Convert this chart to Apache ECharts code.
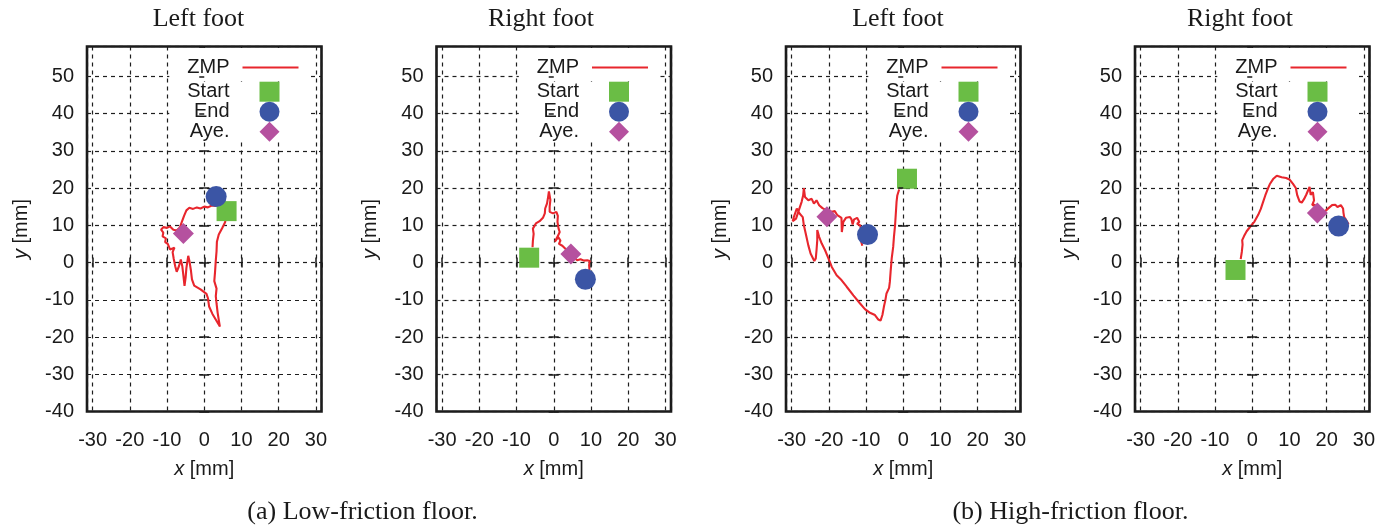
<!DOCTYPE html>
<html><head><meta charset="utf-8">
<script src="https://cdn.jsdelivr.net/npm/echarts@6/dist/echarts.min.js"></script>
<style>html,body{margin:0;padding:0;background:#fff}#c{width:1394px;height:529px}</style>
</head><body><div id="c"></div>
<script>
const panelTitles = ['Left foot', 'Right foot', 'Left foot', 'Right foot'];
const captions = ['(a) Low-friction floor.', '(b) High-friction floor.'];
const legendNames = ['ZMP', 'Start', 'End', 'Aye.'];
const xRange = [-31.5, 31.5];
const yRange = [-40, 58];

const zmpLowLeft = [[5.9,12.8],[5.6,10.8],[4.8,9.2],[3.9,7.5],[3.4,5.6],[3.3,3.0],[3.1,0.5],[2.9,-2.5],[2.7,-5.0],[3.3,-7.0],[3.1,-9.0],[3.3,-11.0],[3.6,-13.5],[4.0,-16.0],[4.2,-17.2],[3.2,-15.5],[2.2,-13.8],[1.3,-11.8],[1.0,-9.6],[0.6,-8.4],[-1.0,-7.2],[-2.7,-6.2],[-3.3,-4.5],[-3.6,-2.0],[-4.0,0.5],[-4.3,1.8],[-4.8,-1.5],[-5.0,-4.0],[-5.3,-6.3],[-5.6,-3.5],[-5.9,-1.0],[-6.3,0.8],[-6.8,-1.0],[-7.4,-2.5],[-7.8,-1.0],[-8.2,1.0],[-8.5,2.8],[-8.0,4.0],[-9.2,3.5],[-9.8,5.0],[-10.5,5.5],[-10.3,6.5],[-11.2,7.0],[-11.0,8.0],[-11.6,8.8],[-11.0,9.5],[-10.0,9.3],[-9.2,9.7],[-8.3,8.8],[-7.4,8.6],[-6.5,9.5],[-6.0,11.0],[-5.4,12.6],[-4.8,14.0],[-4.0,14.7],[-3.0,14.4],[-2.0,14.8],[-1.0,14.5],[0.0,15.0],[1.0,14.8],[2.0,15.3],[3.0,15.2],[3.5,16.0]];
const zmpLowRight = [[-5.7,4.1],[-5.6,5.9],[-5.4,7.7],[-5.6,9.1],[-4.8,10.5],[-3.8,11.1],[-2.9,12.0],[-2.4,13.2],[-2.3,14.5],[-1.8,15.9],[-1.5,17.7],[-1.3,19.1],[-0.8,18.6],[-0.9,16.8],[-1.1,15.0],[-1.1,13.6],[-0.2,13.2],[0.7,13.6],[1.1,12.5],[1.0,10.9],[1.3,9.1],[1.6,8.2],[1.2,7.3],[0.3,5.6],[1.2,6.8],[1.8,5.9],[1.4,5.0],[2.3,4.5],[3.2,3.6],[4.3,2.5],[5.4,1.4],[6.3,0.6],[7.2,0.9],[8.1,0.5],[9.0,0.6],[9.7,0.4],[9.5,-0.7],[9.6,-2.0]];
const zmpHighLeft = [[-1.1,19.6],[-1.6,18.0],[-1.8,16.3],[-2.0,13.1],[-2.2,10.0],[-2.5,6.9],[-2.7,4.2],[-3.1,1.1],[-3.4,-2.5],[-3.6,-5.2],[-3.8,-6.8],[-4.5,-8.3],[-4.8,-10.1],[-5.2,-11.9],[-5.6,-14.1],[-6.1,-15.6],[-6.7,-15.3],[-7.6,-14.1],[-9.1,-13.4],[-10.3,-12.5],[-11.6,-11.0],[-13.4,-8.8],[-15.2,-6.5],[-16.6,-4.7],[-17.9,-3.4],[-19.2,-1.2],[-20.1,1.1],[-21.0,3.3],[-21.9,5.1],[-22.6,6.9],[-23.1,8.7],[-23.1,6.0],[-23.3,3.3],[-23.5,1.1],[-23.9,0.4],[-24.4,0.6],[-24.9,2.4],[-25.5,4.6],[-26.1,7.3],[-26.7,10.0],[-27.0,12.2],[-27.8,13.1],[-28.6,14.5],[-29.4,12.2],[-29.7,11.1],[-28.8,11.8],[-28.2,13.6],[-27.3,16.3],[-26.9,18.0],[-26.7,20.0],[-26.4,17.6],[-25.5,16.7],[-24.6,17.1],[-24.0,15.8],[-23.3,16.7],[-22.6,15.4],[-21.7,14.6],[-20.6,14.0],[-19.2,13.6],[-18.4,13.8],[-17.7,12.7],[-17.2,13.2],[-16.6,12.0],[-16.5,8.2],[-16.1,10.9],[-15.4,12.0],[-14.3,12.2],[-13.9,11.6],[-13.6,10.2],[-13.2,11.6],[-12.4,12.0],[-11.8,10.9],[-12.4,10.4],[-11.6,10.0],[-11.2,8.7],[-11.5,6.4],[-11.0,4.5]];
const zmpHighRight = [[-3.1,0.9],[-2.8,2.9],[-2.6,4.8],[-2.7,6.0],[-2.2,7.1],[-1.5,8.4],[-0.4,9.8],[0.6,11.0],[1.6,12.8],[2.3,14.4],[2.9,16.2],[3.5,18.0],[4.1,19.6],[4.7,21.0],[5.6,22.4],[6.6,23.3],[7.9,22.9],[9.1,22.7],[10.0,22.3],[10.9,21.2],[11.7,20.0],[12.1,18.0],[12.7,16.4],[13.3,16.1],[13.9,17.0],[14.5,18.2],[15.1,19.6],[15.4,20.3],[15.7,18.2],[16.3,18.9],[16.6,16.7],[16.1,15.4],[16.9,15.5],[16.4,13.6],[18.4,13.6],[19.6,13.8],[20.5,14.6],[21.4,15.4],[22.3,15.5],[22.9,14.9],[23.8,15.4],[24.4,14.5],[24.5,13.4],[24.7,12.2],[25.4,11.1],[25.9,10.2]];
const zmpPaths = [zmpLowLeft, zmpLowRight, zmpHighLeft, zmpHighRight];

const startPts = [[6.0,13.8],[-6.6,1.3],[1.0,22.5],[-4.5,-2.0]];
const endPts   = [[3.2,17.7],[8.5,-4.5],[-9.6,7.5],[23.2,9.8]];
const avePts   = [[-5.6,7.8],[4.6,2.3],[-20.5,12.3],[17.5,13.3]];

// layout
const W = 1394;
const gridLefts = [87, 436.5, 786, 1135];
const gridW = 234.5, gridTop = 46.5, gridH = 365;
const titleCenters = [198.5, 541, 898, 1240];
const captionCenters = [362.5, 1070.5];
const SANS = 'Liberation Sans', SERIF = 'Liberation Serif';
const TXT = '#1a1a1a';
const colors = {ZMP: '#e8262d', Start: '#6abd45', End: '#3b55a5', 'Aye.': '#b5519f'};

const grid = [], xAxis = [], yAxis = [], series = [], legend = [], title = [];
const tickCommon = {show: true, inside: true, length: 5, lineStyle: {color: TXT, width: 1.5}};
const splitCommon = {show: true, lineStyle: {color: '#1e1e1e', width: 1.2, type: [4, 4]}};

for (let i = 0; i < 4; i++) {
  grid.push({left: gridLefts[i], top: gridTop, width: gridW, height: gridH, show: true,
    borderColor: TXT, borderWidth: 2.6, backgroundColor: 'transparent', containLabel: false});
  xAxis.push({type: 'value', gridIndex: i, position: 'bottom', min: xRange[0], max: xRange[1], splitNumber: 6,
    axisLine: {show: false}, axisTick: tickCommon, splitLine: splitCommon,
    axisLabel: {fontSize: 20, fontFamily: SANS, color: TXT, margin: 19, showMinLabel: false, showMaxLabel: false},
    name: '{i|x} [mm]', nameLocation: 'middle', nameGap: 48,
    nameTextStyle: {fontSize: 20, fontFamily: SANS, color: TXT, rich: {i: {fontStyle: 'italic', fontSize: 20, fontFamily: SANS, color: TXT}}}});
  xAxis.push({type: 'value', gridIndex: i, position: 'top', min: xRange[0], max: xRange[1], splitNumber: 6, z: 6,
    axisLine: {show: false}, axisTick: tickCommon, splitLine: {show: false}, axisLabel: {show: false}});
  yAxis.push({type: 'value', gridIndex: i, position: 'left', min: yRange[0], max: yRange[1], interval: 10,
    axisLine: {show: false}, axisTick: tickCommon, splitLine: splitCommon,
    axisLabel: {fontSize: 20, fontFamily: SANS, color: TXT, margin: 13, showMaxLabel: false},
    name: '{i|y} [mm]', nameLocation: 'middle', nameGap: 56,
    nameTextStyle: {fontSize: 20, fontFamily: SANS, color: TXT, rich: {i: {fontStyle: 'italic', fontSize: 20, fontFamily: SANS, color: TXT}}}});
  yAxis.push({type: 'value', gridIndex: i, position: 'right', min: yRange[0], max: yRange[1], interval: 10, z: 6,
    axisLine: {show: false}, axisTick: tickCommon, splitLine: {show: false}, axisLabel: {show: false}});

  const xi = 2 * i, yi = 2 * i;
  series.push({name: legendNames[0], type: 'line', xAxisIndex: xi, yAxisIndex: yi, data: zmpPaths[i],
    symbol: 'none', smooth: false, lineStyle: {color: colors.ZMP, width: 2.1}, itemStyle: {color: colors.ZMP}, z: 2, silent: true});
  series.push({name: legendNames[1], type: 'scatter', xAxisIndex: xi, yAxisIndex: yi, data: [startPts[i]],
    symbol: 'rect', symbolSize: 20, itemStyle: {color: colors.Start, opacity: 1}, z: 3, silent: true});
  series.push({name: legendNames[2], type: 'scatter', xAxisIndex: xi, yAxisIndex: yi, data: [endPts[i]],
    symbol: 'circle', symbolSize: 21, itemStyle: {color: colors.End, opacity: 1}, z: 3, silent: true});
  series.push({name: legendNames[3], type: 'scatter', xAxisIndex: xi, yAxisIndex: yi, data: [avePts[i]],
    symbol: 'diamond', symbolSize: 21, itemStyle: {color: colors['Aye.'], opacity: 1}, z: 3, silent: true});

  const R = W - (gridLefts[i] + gridW - 12);
  legend.push({orient: 'vertical', align: 'right', right: R, top: gridTop + 1.5,
    data: [{name: legendNames[0], icon: 'rect', itemStyle: {color: colors.ZMP}}],
    itemWidth: 56, itemHeight: 2.2, itemGap: 0, padding: [9.5, 11, 3.7, 18], backgroundColor: '#fff',
    selectedMode: false, z: 4,
    textStyle: {fontSize: 20, fontFamily: SANS, color: TXT, padding: [3, 8, 0, 0]}});
  legend.push({orient: 'vertical', align: 'right', right: R, top: 81.7, data: legendNames.slice(1),
    itemWidth: 20, itemHeight: 20, itemGap: 0, padding: [0, 30, 0, 18], backgroundColor: '#fff',
    selectedMode: false, z: 4,
    textStyle: {fontSize: 20, fontFamily: SANS, color: TXT, padding: [0, 25, 0, 0]}});

  title.push({text: panelTitles[i], left: titleCenters[i], top: 6, padding: 0, textAlign: 'center', textVerticalAlign: 'top',
    textStyle: {fontSize: 26, fontFamily: SERIF, fontWeight: 'normal', color: TXT}});
}
for (let j = 0; j < 2; j++) {
  title.push({text: captions[j], left: captionCenters[j], top: 499, padding: 0, textAlign: 'center', textVerticalAlign: 'top',
    textStyle: {fontSize: 26, fontFamily: SERIF, fontWeight: 'normal', color: TXT}});
}

const chart = echarts.init(document.getElementById('c'), null, {renderer: 'canvas'});
chart.setOption({animation: false, backgroundColor: '#fff', title, grid, xAxis, yAxis, legend, series});
</script></body></html>
